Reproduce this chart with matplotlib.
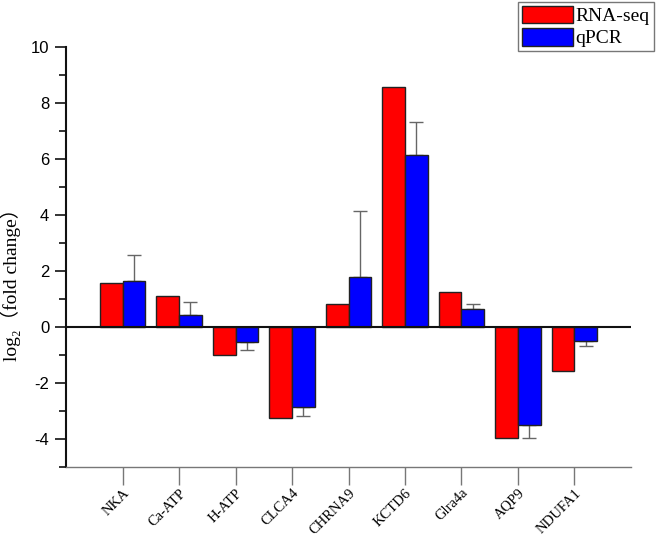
import matplotlib
matplotlib.use("Agg")
import matplotlib.pyplot as plt
import numpy as np
from matplotlib.ticker import MultipleLocator

plt.rcParams["axes.unicode_minus"] = False

genes = ["NKA", "Ca-ATP", "H-ATP", "CLCA4", "CHRNA9", "KCTD6", "Glra4a", "AQP9", "NDUFA1"]
rnaseq = [1.56, 1.10, -0.99, -3.24, 0.82, 8.56, 1.25, -3.98, -1.57]
qpcr = [1.65, 0.43, -0.55, -2.87, 1.77, 6.13, 0.65, -3.51, -0.49]
qpcr_err = [0.92, 0.45, 0.27, 0.30, 2.37, 1.20, 0.18, 0.45, 0.20]

serif = ["Liberation Serif", "DejaVu Serif"]
sans = ["Liberation Sans", "DejaVu Sans"]

fig = plt.figure(figsize=(6.57, 5.37), dpi=100)
ax = fig.add_axes([0.1005, 0.1304, 0.8599, 0.7821])

x = np.arange(len(genes))
w = 0.4
ax.bar(x - w / 2, rnaseq, w, color="#ff0000", edgecolor="#222222", linewidth=1.0, label="RNA-seq", zorder=2)
ax.bar(x + w / 2, qpcr, w, color="#0000ff", edgecolor="#222222", linewidth=1.0, label="qPCR", zorder=2)

# one-sided error bars, pointing away from zero
q = np.array(qpcr)
err = np.array(qpcr_err)
lower = np.where(q < 0, err, 0)
upper = np.where(q >= 0, err, 0)
ax.errorbar(x + w / 2, q, yerr=[lower, upper], fmt="none", ecolor="#666666",
            elinewidth=1.0, capsize=5, capthick=1.0, zorder=1)

ax.axhline(0, color="#111111", lw=1.5, zorder=3)

ax.set_xlim(-1, 9)
ax.set_ylim(-5, 10)
ax.yaxis.set_major_locator(MultipleLocator(2))
ax.yaxis.set_minor_locator(MultipleLocator(1))

for s in ["top", "right"]:
    ax.spines[s].set_visible(False)
ax.spines["left"].set_linewidth(1.5)
ax.spines["left"].set_color("#111111")
ax.spines["bottom"].set_linewidth(1.0)
ax.spines["bottom"].set_color("#777777")

ax.tick_params(axis="y", which="major", length=8, width=1.2, color="#111111", labelsize=12, pad=4)
ax.tick_params(axis="y", which="minor", length=5, width=1.2, color="#111111")
ax.tick_params(axis="x", length=13, width=1.0, color="#777777", pad=1)
for lab in ax.get_yticklabels():
    lab.set_family(sans)

ax.set_xticks(x)
ax.set_xticklabels(genes, rotation=45, ha="right", rotation_mode="anchor", family=serif, fontsize=10.5)

ax.set_ylabel("log\u2082\uff08fold change\uff09", family=["Liberation Serif", "Noto Sans CJK SC"], fontsize=14)
ax.yaxis.set_label_coords(-0.08, 0.445)

leg = fig.legend(loc="upper right", bbox_to_anchor=(0.998, 1.0), prop={"family": serif, "size": 14},
                 frameon=True, fancybox=False, edgecolor="#555555", borderpad=0.2,
                 handlelength=2.6, handleheight=1.0, handletextpad=0.15, labelspacing=0.15,
                 borderaxespad=0.1)
leg.get_frame().set_linewidth(1.0)

fig.savefig("out.png", dpi=100)
